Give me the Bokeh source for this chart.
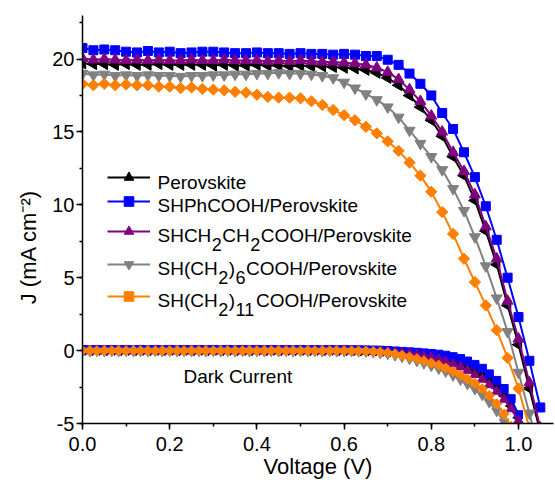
import numpy as np
from bokeh.plotting import figure
from bokeh.models import Range1d, SingleIntervalTicker, Label, Legend, LegendItem, PrintfTickFormatter
from bokeh.embed import file_html
from bokeh.resources import INLINE

# ---------------- data ----------------
voltage_light = [0.000, 0.025, 0.050, 0.075, 0.100, 0.125, 0.150, 0.175, 0.200, 0.225,
                 0.250, 0.275, 0.300, 0.325, 0.350, 0.375, 0.400, 0.425, 0.450, 0.475,
                 0.500, 0.525, 0.550, 0.575, 0.600, 0.625, 0.650, 0.675, 0.700, 0.725,
                 0.750, 0.775, 0.800, 0.825, 0.850, 0.875, 0.900, 0.925, 0.950, 0.975,
                 1.000, 1.025, 1.050]

j_perovskite = [19.7, 19.65, 19.65, 19.6, 19.65, 19.6, 19.6, 19.65, 19.6, 19.6,
                19.6, 19.6, 19.55, 19.6, 19.55, 19.55, 19.6, 19.55, 19.55, 19.5,
                19.55, 19.5, 19.5, 19.45, 19.4, 19.35, 19.25, 19.05, 18.7, 18.2,
                17.5, 16.7, 15.8, 14.7, 13.3, 12.0, 10.3, 8.2, 5.9, 3.1,
                0.4, -2.6, -5.6]
j_shphcooh = [20.75, 20.6, 20.65, 20.6, 20.5, 20.45, 20.55, 20.45, 20.5, 20.4,
              20.45, 20.5, 20.5, 20.45, 20.4, 20.4, 20.45, 20.4, 20.4, 20.35,
              20.4, 20.35, 20.35, 20.3, 20.35, 20.3, 20.2, 20.2, 19.95, 19.6,
              19.0, 18.3, 17.5, 16.3, 15.2, 13.6, 11.9, 9.9, 7.6, 5.0,
              2.3, -0.7, -3.9]
j_shch2ch2 = [20.05, 19.95, 20.0, 19.95, 19.9, 19.95, 19.9, 19.95, 19.9, 19.9,
              19.95, 19.9, 19.9, 19.95, 19.9, 19.9, 19.9, 19.85, 19.9, 19.85,
              19.9, 19.85, 19.8, 19.8, 19.75, 19.7, 19.6, 19.4, 19.1, 18.6,
              17.9, 17.1, 16.1, 15.0, 13.6, 12.3, 10.7, 8.5, 6.3, 3.4,
              0.8, -2.2, -5.3]
j_ch2_6 = [19.0, 18.9, 18.95, 18.85, 18.9, 18.85, 18.9, 18.85, 18.85, 18.8,
           18.85, 18.85, 18.9, 18.9, 18.95, 18.95, 19.0, 19.0, 19.05, 19.0,
           19.0, 18.95, 18.85, 18.7, 18.4, 18.0, 17.6, 17.2, 16.7, 16.0,
           15.1, 14.2, 13.3, 12.4, 11.1, 9.6, 7.8, 5.8, 3.6, 1.3,
           -1.5, -4.3, -7.2]
j_ch2_11 = [18.3, 18.2, 18.3, 18.2, 18.25, 18.2, 18.2, 18.1, 18.1, 18.0,
            18.05, 17.95, 17.9, 17.85, 17.75, 17.7, 17.55, 17.4, 17.35, 17.35,
            17.3, 17.1, 16.85, 16.5, 16.15, 15.8, 15.35, 14.9, 14.35, 13.7,
            12.9, 12.0, 10.9, 9.5, 8.0, 6.3, 4.7, 3.1, 1.4, -0.5,
            -2.6, -5.3, -8.0]

voltage_dark = [0.000, 0.017, 0.033, 0.050, 0.067, 0.083, 0.100, 0.117, 0.133, 0.150,
                0.167, 0.183, 0.200, 0.217, 0.233, 0.250, 0.267, 0.283, 0.300, 0.317,
                0.333, 0.350, 0.367, 0.383, 0.400, 0.417, 0.433, 0.450, 0.467, 0.483,
                0.500, 0.517, 0.533, 0.550, 0.567, 0.583, 0.600, 0.617, 0.633, 0.650,
                0.667, 0.683, 0.700, 0.717, 0.733, 0.750, 0.767, 0.783, 0.800, 0.817,
                0.833, 0.850, 0.867, 0.883, 0.900, 0.917, 0.933, 0.950, 0.967, 0.983,
                1.000, 1.017]

dark_perovskite = [0.02, 0.0, 0.02, 0.0, 0.02, 0.0, 0.02, 0.0, 0.02, 0.0,
                   0.02, 0.0, 0.02, 0.0, 0.02, 0.0, 0.02, 0.0, 0.02, 0.0,
                   0.02, 0.0, 0.02, 0.0, 0.02, 0.0, 0.02, 0.0, 0.02, 0.0,
                   0.02, 0.0, 0.02, 0.0, 0.02, 0.0, 0.0, 0.0, -0.02, -0.02,
                   -0.03, -0.05, -0.07, -0.1, -0.13, -0.17, -0.22, -0.28, -0.36, -0.45,
                   -0.57, -0.72, -0.9, -1.12, -1.4, -1.72, -2.1, -2.55, -3.1, -3.8,
                   -4.6, -5.5]
dark_shphcooh = [0.06, 0.05, 0.06, 0.05, 0.06, 0.05, 0.06, 0.05, 0.06, 0.05,
                 0.06, 0.05, 0.06, 0.05, 0.06, 0.05, 0.06, 0.05, 0.06, 0.05,
                 0.06, 0.05, 0.06, 0.05, 0.06, 0.05, 0.06, 0.05, 0.06, 0.05,
                 0.06, 0.05, 0.06, 0.05, 0.06, 0.05, 0.06, 0.05, 0.05, 0.04,
                 0.03, 0.02, 0.0, -0.03, -0.06, -0.09, -0.12, -0.16, -0.2, -0.25,
                 -0.32, -0.42, -0.55, -0.72, -0.95, -1.22, -1.6, -2.05, -2.6, -3.3,
                 -4.4, -5.6]
dark_shch2ch2 = [0.0, -0.01, 0.0, -0.01, 0.0, -0.01, 0.0, -0.01, 0.0, -0.01,
                 0.0, -0.01, 0.0, -0.01, 0.0, -0.01, 0.0, -0.01, 0.0, -0.01,
                 0.0, -0.01, 0.0, -0.01, 0.0, -0.01, 0.0, -0.01, 0.0, -0.01,
                 0.0, -0.01, 0.0, -0.01, 0.0, -0.01, 0.0, -0.01, -0.02, -0.03,
                 -0.05, -0.07, -0.1, -0.14, -0.18, -0.23, -0.29, -0.37, -0.47, -0.6,
                 -0.75, -0.93, -1.13, -1.37, -1.65, -1.97, -2.35, -2.8, -3.35, -4.0,
                 -4.8, -5.7]
dark_ch2_6 = [-0.03, -0.05, -0.03, -0.05, -0.03, -0.05, -0.03, -0.05, -0.03, -0.05,
              -0.03, -0.05, -0.03, -0.05, -0.03, -0.05, -0.03, -0.05, -0.03, -0.05,
              -0.03, -0.05, -0.03, -0.05, -0.03, -0.05, -0.03, -0.05, -0.03, -0.05,
              -0.03, -0.05, -0.03, -0.05, -0.03, -0.05, -0.04, -0.05, -0.06, -0.08,
              -0.12, -0.17, -0.24, -0.33, -0.44, -0.57, -0.72, -0.88, -1.05, -1.25,
              -1.45, -1.72, -2.0, -2.3, -2.65, -3.05, -3.55, -4.15, -4.9, -5.8,
              -6.6, -7.4]
dark_ch2_11 = [-0.01, 0.0, -0.01, 0.0, -0.01, 0.0, -0.01, 0.0, -0.01, 0.0,
               -0.01, 0.0, -0.01, 0.0, -0.01, 0.0, -0.01, 0.0, -0.01, 0.0,
               -0.01, 0.0, -0.01, 0.0, -0.01, 0.0, -0.01, 0.0, -0.01, 0.0,
               -0.01, 0.0, -0.01, 0.0, -0.01, 0.0, -0.01, -0.02, -0.03, -0.04,
               -0.06, -0.1, -0.15, -0.23, -0.33, -0.44, -0.56, -0.7, -0.85, -1.0,
               -1.2, -1.43, -1.68, -1.95, -2.25, -2.62, -3.08, -3.65, -4.35, -5.2,
               -6.0, -6.8]

# legend texts: (piece, kind) with kind "n" normal, "s" subscript
legend_rows = [
    [("Perovskite", "n")],
    [("SHPhCOOH/Perovskite", "n")],
    [("SHCH", "n"), ("2", "s"), ("CH", "n"), ("2", "s"), ("COOH/Perovskite", "n")],
    [("SH(CH", "n"), ("2", "s"), (")", "n"), ("6", "s"), ("COOH/Perovskite", "n")],
    [("SH(CH", "n"), ("2", "s"), (")", "n"), ("11", "s"), ("COOH/Perovskite", "n")],
]
x_label = "Voltage (V)"
y_label = "J (mA cm\u207b\u00b2)"
dark_text = "Dark Current"

# ---------------- styles ----------------
FONT = "Liberation Sans"
colors = ["#000000", "#0000FF", "#800080", "#808080", "#FF8000"]
markers = ["triangle", "square", "triangle", "inverted_triangle", "square"]
angles = [np.pi / 2, 0, 0, 0, np.pi / 4]
sizes = [11, 9, 11, 11, 8]
light_series = [j_perovskite, j_shphcooh, j_shch2ch2, j_ch2_6, j_ch2_11]
dark_series = [dark_perovskite, dark_shphcooh, dark_shch2ch2, dark_ch2_6, dark_ch2_11]

W, H = 555, 484
BL, BR, BT, BB = 82, 2, 15, 61
px_per_v = 436.0
px_per_j = 14.58
x_end = (W - BL - BR) / px_per_v
y_end = -5 + (H - BT - BB) / px_per_j

p = figure(width=W, height=H, x_range=Range1d(0, x_end), y_range=Range1d(-5, y_end),
           output_backend="svg", toolbar_location=None,
           min_border_left=BL, min_border_right=BR, min_border_top=BT, min_border_bottom=BB)
p.outline_line_color = None
p.grid.visible = False

p.xaxis.ticker = SingleIntervalTicker(interval=0.2, num_minor_ticks=2)
p.yaxis.ticker = SingleIntervalTicker(interval=5, num_minor_ticks=2)
p.xaxis.formatter = PrintfTickFormatter(format="%.1f")
p.yaxis.formatter = PrintfTickFormatter(format="%d")
for ax in (p.xaxis, p.yaxis):
    ax.axis_line_width = 1.5
    ax.axis_line_color = "black"
    ax.major_tick_line_width = 1.5
    ax.minor_tick_line_width = 1.5
    ax.major_tick_line_color = "black"
    ax.minor_tick_line_color = "black"
    ax.major_tick_in = 0
    ax.major_tick_out = 6
    ax.minor_tick_in = 0
    ax.minor_tick_out = 3
    ax.major_label_text_font = FONT
    ax.major_label_text_font_size = "20px"
    ax.major_label_text_color = "black"
    ax.axis_label_text_font = FONT
    ax.axis_label_text_font_size = "22px"
    ax.axis_label_text_font_style = "normal"
    ax.axis_label_text_color = "black"
p.xaxis.major_label_standoff = 7
p.yaxis.major_label_standoff = 2
p.xaxis.axis_label = x_label
p.xaxis.axis_label_standoff = 0
p.yaxis.axis_label = y_label + "\u00a0" * 9
p.yaxis.axis_label_standoff = 8

light_renderers = []
for i in range(5):
    ln = p.line(voltage_light, light_series[i], line_color=colors[i], line_width=2)
    sc = p.scatter(voltage_light, light_series[i], marker=markers[i], size=sizes[i],
                   angle=angles[i], fill_color=colors[i], line_color=colors[i])
    light_renderers.append((ln, sc))

for i in range(5):
    p.line(voltage_dark, dark_series[i], line_color=colors[i], line_width=2)
    p.scatter(voltage_dark, dark_series[i], marker=markers[i], size=sizes[i] * 0.9,
              angle=angles[i], fill_color=colors[i], line_color=colors[i])

# ---------- text geometry helpers (picture px -> frame screen coords) ----------
FRAME_LEFT = BL
FRAME_BOTTOM = H - BB

def sx(px):
    return px - FRAME_LEFT

def sy(py):
    return FRAME_BOTTOM - py

AW = {"S": 667, "H": 722, "C": 722, "O": 778, "(": 333, ")": 333, "/": 278, "P": 667,
      "e": 556, "r": 333, "o": 556, "v": 500, "s": 500, "k": 500, "i": 222, "t": 278,
      "h": 556, "1": 556, "2": 556, "6": 556}

def tw(s, size):
    return sum(AW.get(c, 556) for c in s) * size / 1000.0

# ---------- legend ----------
GLYPH_H = 24
LEG_DY = 4.5          # empirical correction of the legend box position
glyph_centers = [181.7, 205.0, 235.0, 268.3, 300.0]
MAIN, SUB, SUB_DROP, SUB_PAD = 19, 18, 9, 0.5
for i in range(5):
    ln, sc = light_renderers[i]
    leg = Legend(items=[LegendItem(label=" ", renderers=[ln, sc])],
                 location=(sx(107), sy(glyph_centers[i] - LEG_DY) - GLYPH_H / 2),
                 glyph_width=43, glyph_height=GLYPH_H, label_height=GLYPH_H,
                 label_text_font_size="1px", padding=0, margin=0, spacing=0,
                 border_line_color=None, background_fill_alpha=0)
    p.add_layout(leg)
    xcur = 157.0
    for txt, kind in legend_rows[i]:
        if kind == "n":
            size, yc, pad = MAIN, glyph_centers[i], 0
        else:
            size, yc, pad = SUB, glyph_centers[i] + SUB_DROP, SUB_PAD
        p.add_layout(Label(x=sx(xcur + pad), y=sy(yc), x_units="screen", y_units="screen",
                           text=txt, text_font=FONT, text_font_size=f"{size}px",
                           text_color="black", text_align="left", text_baseline="middle"))
        xcur += tw(txt, size) + 2 * pad

p.add_layout(Label(x=sx(183), y=sy(376), x_units="screen", y_units="screen",
                   text=dark_text, text_font=FONT, text_font_size="19px", text_color="black",
                   text_align="left", text_baseline="middle"))

open("out.html", "w").write(file_html(p, INLINE))
